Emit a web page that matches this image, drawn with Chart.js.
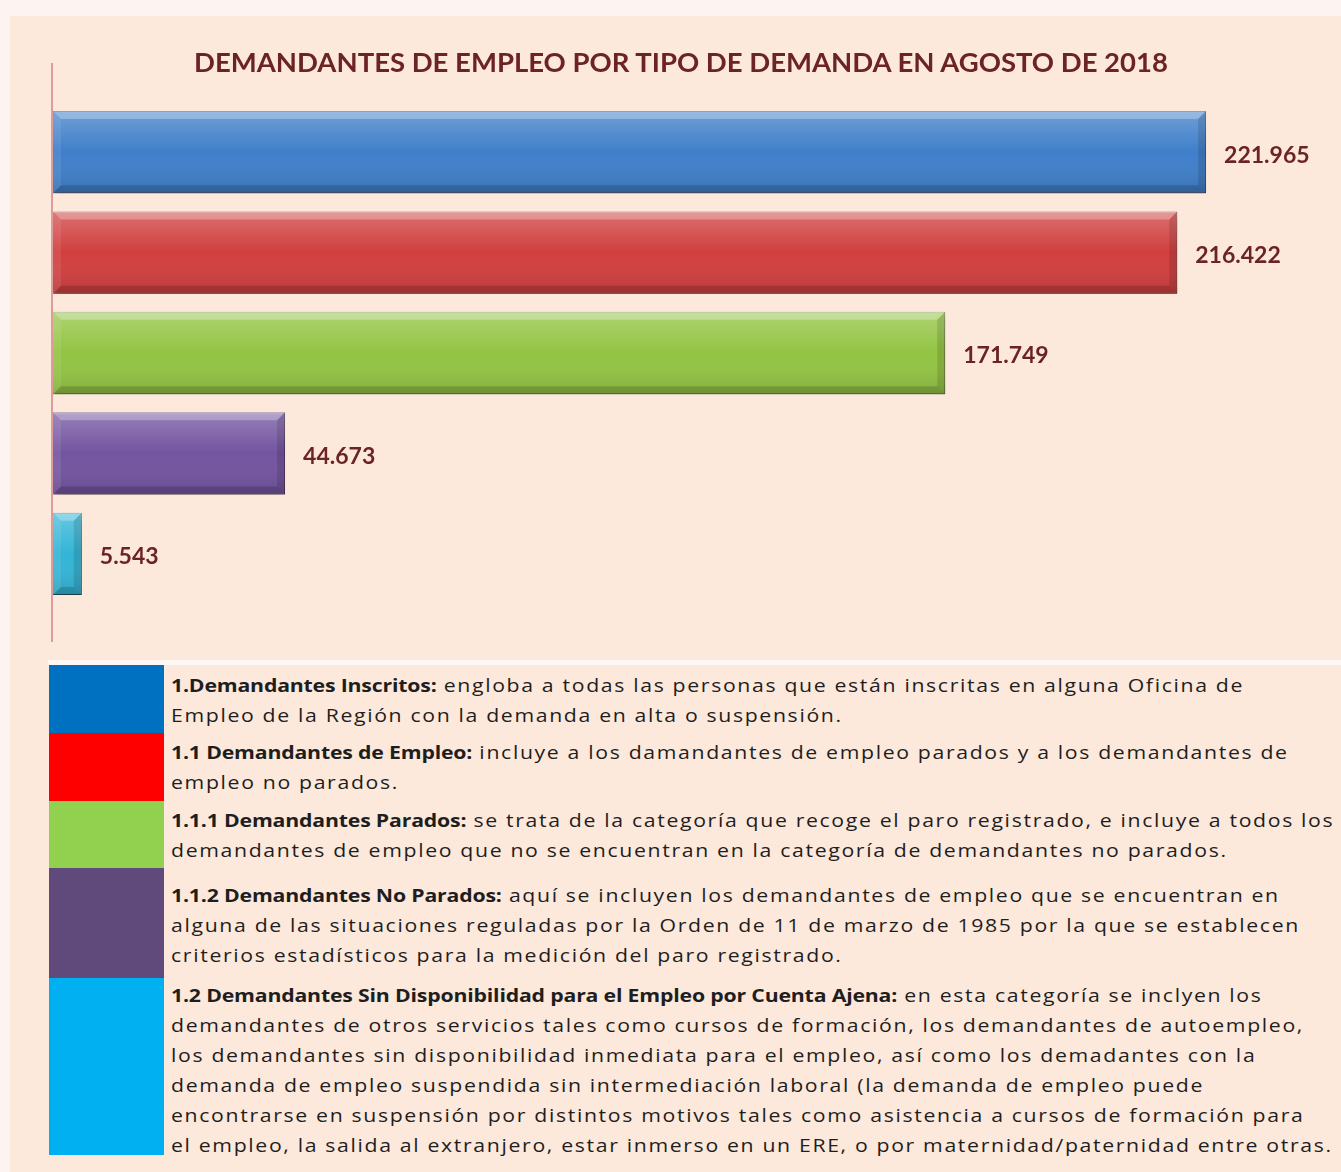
<!DOCTYPE html>
<html>
<head>
<meta charset="utf-8">
<script src="https://cdn.jsdelivr.net/npm/chart.js@4"></script>
<style>
  body { margin: 0; background: #fdf3f0; width: 1341px; height: 1172px; position: relative; overflow: hidden; }
  #frame { position: absolute; left: 10px; top: 16px; width: 1331px; height: 1156px; background: #fde9dc; }
  #chartBox { position: absolute; left: 0; top: 0; width: 1341px; height: 650px; }
  #title { position: absolute; left: 0; width: 1362px; top: 45px; text-align: center;
           font: bold 27.5px Lato, sans-serif; color: #6b2323; white-space: nowrap; }
  #tableTop { position: absolute; left: 48px; top: 660px; width: 1293px; height: 5px; background: #fef6f2; }
  .box { position: absolute; left: 49px; width: 115px; }
  .txt { position: absolute; left: 171px; font: 18px "Open Sans", sans-serif; line-height: 30px;
         color: #1e1e1e; white-space: nowrap; letter-spacing: 1.4px;
         transform: scaleX(1.18); transform-origin: 0 0; }
  .txt b { letter-spacing: -0.15px; }
</style>
</head>
<body>
<div id="frame"></div>
<div id="chartBox"><canvas id="chart"></canvas></div>
<div id="title">DEMANDANTES DE EMPLEO POR TIPO DE DEMANDA EN AGOSTO DE 2018</div>
<div id="tableTop"></div>

<div class="box" style="top:665px;height:68px;background:#0070c0"></div>
<div class="box" style="top:733px;height:68px;background:#ff0000"></div>
<div class="box" style="top:801px;height:67px;background:#92d050"></div>
<div class="box" style="top:868px;height:110px;background:#604a7b"></div>
<div class="box" style="top:978px;height:177px;background:#00b0f0"></div>

<div class="txt" style="top:670px"><b>1.Demandantes Inscritos:</b> engloba a todas las personas que están inscritas en alguna Oficina de<br>Empleo de la Región con la demanda en alta o suspensión.</div>
<div class="txt" style="top:737px"><b>1.1 Demandantes de Empleo:</b> incluye a los damandantes de empleo parados y a los demandantes de<br>empleo no parados.</div>
<div class="txt" style="top:805px"><b>1.1.1 Demandantes Parados:</b> se trata de la categoría que recoge el paro registrado, e incluye a todos los<br>demandantes de empleo que no se encuentran en la categoría de demandantes no parados.</div>
<div class="txt" style="top:880px"><b>1.1.2 Demandantes No Parados:</b> aquí se incluyen los demandantes de empleo que se encuentran en<br>alguna de las situaciones reguladas por la Orden de 11 de marzo de 1985 por la que se establecen<br>criterios estadísticos para la medición del paro registrado.</div>
<div class="txt" style="top:980px"><b>1.2 Demandantes Sin Disponibilidad para el Empleo por Cuenta Ajena:</b> en esta categoría se inclyen los<br>demandantes de otros servicios tales como cursos de formación, los demandantes de autoempleo,<br>los demandantes sin disponibilidad inmediata para el empleo, así como los demadantes con la<br>demanda de empleo suspendida sin intermediación laboral (la demanda de empleo puede<br>encontrarse en suspensión por distintos motivos tales como asistencia a cursos de formación para<br>el empleo, la salida al extranjero, estar inmerso en un ERE, o por maternidad/paternidad entre otras.</div>

<script>
// Data
const categories = ['1.Demandantes Inscritos', '1.1 Demandantes de Empleo', '1.1.1 Demandantes Parados',
                    '1.1.2 Demandantes No Parados', '1.2 Demandantes Sin Disponibilidad'];
const values = [221965, 216422, 171749, 44673, 5543];
const barColors = ['#3f7fca', '#d13f3f', '#93c443', '#7354a0', '#33b5d6'];
const barEdges = ['#2b5a90', '#8c2a2a', '#5e8a2c', '#4a3468', '#17697f'];
const xMax = 246400;

// spanish thousands separator
function fmt(v) {
    return v.toString().replace(/\B(?=(\d{3})+(?!\d))/g, '.');
}

// shadow + bevel look for the bars
const bevelBars = {
    id: 'bevelBars',
    beforeDatasetsDraw(chart) {
        const ctx = chart.ctx;
        ctx.save();
        ctx.shadowColor = 'rgba(60,30,20,0.35)';
        ctx.shadowBlur = 6;
        ctx.shadowOffsetX = 2;
        ctx.shadowOffsetY = 4;
    },
    afterDatasetsDraw(chart) {
        const ctx = chart.ctx;
        ctx.restore();
        const meta = chart.getDatasetMeta(0);
        meta.data.forEach((el) => {
            const l = el.base, r = el.x;
            const t = el.y - el.height / 2, b = el.y + el.height / 2;
            const d = 8;
            const g = ctx.createLinearGradient(0, t, 0, b);
            g.addColorStop(0, 'rgba(255,255,255,0.25)');
            g.addColorStop(0.5, 'rgba(255,255,255,0)');
            g.addColorStop(1, 'rgba(0,0,0,0.12)');
            ctx.fillStyle = g;
            ctx.fillRect(l, t, r - l, b - t);
            const poly = (pts, col) => {
                ctx.beginPath();
                ctx.moveTo(pts[0][0], pts[0][1]);
                pts.slice(1).forEach(p => ctx.lineTo(p[0], p[1]));
                ctx.closePath();
                ctx.fillStyle = col;
                ctx.fill();
            };
            poly([[l, t], [r, t], [r - d, t + d], [l + d, t + d]], 'rgba(255,255,255,0.28)');
            poly([[r, t], [r, b], [r - d, b - d], [r - d, t + d]], 'rgba(0,0,0,0.12)');
            poly([[l, b], [r, b], [r - d, b - d], [l + d, b - d]], 'rgba(0,0,0,0.15)');
            poly([[l, t], [l + d, t + d], [l + d, b - d], [l, b]], 'rgba(255,255,255,0.08)');
        });
        // value labels
        ctx.save();
        ctx.font = 'bold 23px Lato, sans-serif';
        ctx.fillStyle = '#6b2323';
        ctx.textBaseline = 'middle';
        meta.data.forEach((el, i) => {
            ctx.fillText(fmt(values[i]), el.x + 18, el.y + 3);
        });
        ctx.restore();
        // vertical axis line
        const a = chart.chartArea;
        ctx.save();
        ctx.strokeStyle = '#dc9c9c';
        ctx.lineWidth = 2;
        ctx.beginPath();
        ctx.moveTo(a.left - 1, a.top - 39);
        ctx.lineTo(a.left - 1, a.bottom + 38);
        ctx.stroke();
        ctx.restore();
    }
};

new Chart(document.getElementById('chart'), {
    type: 'bar',
    data: {
        labels: categories,
        datasets: [{
            data: values,
            backgroundColor: barColors,
            borderColor: barEdges,
            borderWidth: 1,
            categoryPercentage: 1,
            barPercentage: 0.82
        }]
    },
    options: {
        indexAxis: 'y',
        responsive: true,
        maintainAspectRatio: false,
        animation: false,
        layout: { padding: { left: 53, right: 8, top: 102, bottom: 46 } },
        scales: {
            x: { display: false, min: 0, max: xMax },
            y: { display: false }
        },
        plugins: {
            legend: { display: false },
            tooltip: { enabled: false }
        }
    },
    plugins: [bevelBars]
});
</script>
</body>
</html>
